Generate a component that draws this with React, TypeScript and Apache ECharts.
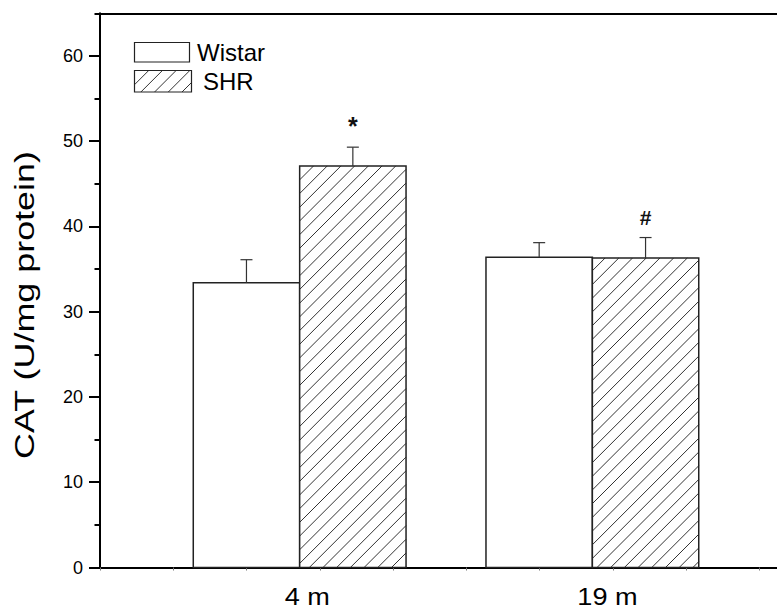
import React, { useEffect, useRef } from "react";
import * as echarts from "echarts";

// ---- data ----
const categories = ["4 m", "19 m"];
const groupCenters = [2.725, 6.72]; // group centres on the numeric x scale (tick units)
const seriesNames = ["Wistar", "SHR"];
const wistarValues = [33.4, 36.4];
const wistarErrors = [2.7, 1.7];
const shrValues = [47.1, 36.3];
const shrErrors = [2.2, 2.4];
const wistarMarks = ["", ""];
const shrMarks = ["*", "#"];
const yTickValues = [0, 10, 20, 30, 40, 50, 60];
const yAxisTitle = "CAT (U/mg protein)";

const BAR_W = 1.452; // bar width in x-scale units
const HATCH = 13.7;
const FONT = "Arial, 'Liberation Sans', Helvetica, sans-serif";

function hatch(x0: number, y0: number, x1: number, y1: number, step: number, style: any) {
  const out: any[] = [];
  let k = Math.ceil((x0 + y0) / step) * step;
  for (; k < x1 + y1; k += step) {
    const xs = Math.max(x0, k - y1);
    const xe = Math.min(x1, k - y0);
    if (xe - xs > 0.5) {
      out.push({ type: "line", silent: true, shape: { x1: xs, y1: k - xs, x2: xe, y2: k - xe }, style });
    }
  }
  return out;
}

function makeRenderer(side: number, hatched: boolean, marks: string[], withLabel: boolean) {
  return (params: any, api: any) => {
    const gx = api.value(0);
    const v = api.value(1);
    const e = api.value(2);
    const base = api.coord([gx, 0]);
    const top = api.coord([gx, v]);
    const errTop = api.coord([gx, v + e]);
    const w = api.size([BAR_W, 0])[0];
    const xl = side < 0 ? base[0] - w : base[0];
    const xr = xl + w;
    const cx = xl + w / 2;
    const h = base[1] - top[1];
    const children: any[] = [];
    children.push({ type: "rect", shape: { x: xl, y: top[1], width: w, height: h }, style: { fill: "#fff" } });
    if (hatched) children.push(...hatch(xl, top[1], xr, base[1], HATCH, { stroke: "#333", lineWidth: 1 }));
    children.push({ type: "rect", shape: { x: xl, y: top[1], width: w, height: h }, style: { fill: "none", stroke: "#222", lineWidth: 1.5 } });
    children.push({ type: "line", shape: { x1: cx, y1: top[1], x2: cx, y2: errTop[1] }, style: { stroke: "#333", lineWidth: 1.2 } });
    children.push({ type: "line", shape: { x1: cx - 6, y1: errTop[1], x2: cx + 6, y2: errTop[1] }, style: { stroke: "#333", lineWidth: 1.2 } });
    const mark = marks[params.dataIndex];
    if (mark) {
      const star = mark === "*";
      children.push({
        type: "text",
        x: cx,
        y: errTop[1] - (star ? 21 : 20),
        style: { text: mark, fontSize: star ? 25 : 21, fontWeight: "bold", fontFamily: FONT, fill: "#111", align: "center", verticalAlign: "middle" },
      });
    }
    if (withLabel) {
      children.push({
        type: "text",
        x: base[0] - 15,
        y: base[1] + 29,
        scaleX: 1.13,
        style: { text: categories[params.dataIndex], fontSize: 24, fontFamily: FONT, fill: "#000", align: "left", verticalAlign: "middle" },
      });
    }
    return { type: "group", children };
  };
}

export default function App() {
  const ref = useRef<HTMLDivElement>(null);
  useEffect(() => {
    if (!ref.current) return;
    const chart = echarts.init(ref.current, null, { renderer: "svg" });
    const legendHatch = hatch(134.5, 70.5, 191.5, 92, HATCH, { stroke: "#333", lineWidth: 1 });
    chart.setOption({
      animation: false,
      backgroundColor: "#fff",
      grid: { left: 100, right: 0, top: 13.3, bottom: 45.5, show: false },
      xAxis: [
        {
          type: "value",
          min: 0,
          max: 9.24,
          interval: 1,
          axisLine: { show: true, onZero: false, lineStyle: { color: "#000", width: 2 } },
          axisTick: { show: true, length: 3, lineStyle: { color: "#777", width: 1 } },
          axisLabel: { show: false },
          splitLine: { show: false },
        },
        {
          type: "value",
          position: "top",
          min: 0,
          max: 9.24,
          interval: 1,
          axisLine: { show: true, onZero: false, lineStyle: { color: "#000", width: 2 } },
          axisTick: { show: false },
          axisLabel: { show: false },
          splitLine: { show: false },
        },
      ],
      yAxis: [
        {
          type: "value",
          min: 0,
          max: 65,
          interval: 10,
          axisLine: { show: true, lineStyle: { color: "#000", width: 2 } },
          axisTick: { show: true, length: 11, customValues: yTickValues, lineStyle: { color: "#000", width: 2 } },
          axisLabel: { customValues: yTickValues, margin: 17, fontSize: 18, color: "#000", fontFamily: FONT },
          splitLine: { show: false },
        },
        {
          type: "value",
          min: 0,
          max: 65,
          interval: 5,
          position: "left",
          axisLine: { show: false },
          axisTick: { show: true, length: 5.5, lineStyle: { color: "#000", width: 2 } },
          axisLabel: { show: false },
          splitLine: { show: false },
        },
      ],
      series: [
        {
          type: "custom",
          name: seriesNames[0],
          clip: false,
          renderItem: makeRenderer(-1, false, wistarMarks, true),
          data: groupCenters.map((x, i) => [x, wistarValues[i], wistarErrors[i]]),
        },
        {
          type: "custom",
          name: seriesNames[1],
          clip: false,
          renderItem: makeRenderer(1, true, shrMarks, false),
          data: groupCenters.map((x, i) => [x, shrValues[i], shrErrors[i]]),
        },
      ],
      graphic: [
        { type: "rect", shape: { x: 134.5, y: 42.5, width: 55, height: 19.5 }, style: { fill: "#fff", stroke: "#222", lineWidth: 1.2 } },
        { type: "rect", shape: { x: 134.5, y: 70.5, width: 57, height: 21.5 }, style: { fill: "#fff" } },
        ...legendHatch,
        { type: "rect", shape: { x: 134.5, y: 70.5, width: 57, height: 21.5 }, style: { fill: "none", stroke: "#222", lineWidth: 1.2 } },
        { type: "text", x: 197, y: 52.5, style: { text: seriesNames[0], fontSize: 24, fontFamily: FONT, fill: "#000", align: "left", verticalAlign: "middle" } },
        { type: "text", x: 203, y: 81.5, style: { text: seriesNames[1], fontSize: 24, fontFamily: FONT, fill: "#000", align: "left", verticalAlign: "middle" } },
        {
          type: "text",
          x: 25,
          y: 305,
          rotation: Math.PI / 2,
          scaleX: 1.33,
          style: { text: yAxisTitle, fontSize: 27, fontFamily: FONT, fill: "#000", align: "center", verticalAlign: "middle" },
        },
      ],
    });
    return () => chart.dispose();
  }, []);
  return <div ref={ref} style={{ position: "absolute", left: 0, top: 0, width: 777, height: 613 }} />;
}
